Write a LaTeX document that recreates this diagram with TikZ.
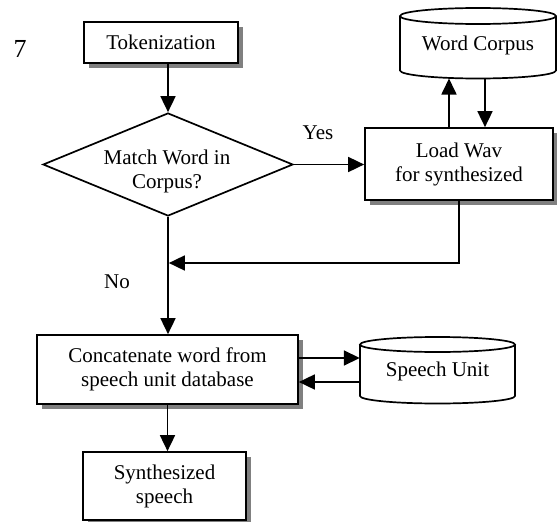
\documentclass[tikz,border=0pt]{standalone}
\usepackage{fontspec}
\setmainfont{Liberation Serif}
\usetikzlibrary{shapes.geometric,arrows.meta,shadows}
\begin{document}
\begin{tikzpicture}[x=1pt,y=-1pt,
  font=\fontsize{21}{24}\selectfont,
  ln/.style={line width=1.7pt},
  arr/.style={line width=1.7pt,-{Triangle[length=16pt,width=15pt]}},
  boxshadow/.style={drop shadow={shadow xshift=5pt,shadow yshift=-5pt,fill=black!50,opacity=1}},
  procbox/.style={draw,line width=1.7pt,fill=white,boxshadow,align=center,inner sep=0pt},
  decision/.style={draw,line width=1.7pt,fill=white,shape=diamond,aspect=2.43,inner sep=0pt},
  plaintext/.style={inner sep=0pt,align=center},
]
\useasboundingbox (0,0) rectangle (557,522);

% label 7
\node[font=\fontsize{26}{30}\selectfont] (seven) at (20,49) {7};

% process boxes
\node[procbox,minimum width=154pt,minimum height=41pt] (tok) at (161,42.5) {Tokenization};
\node[decision,minimum width=250pt,minimum height=103pt] (dia) at (168,164.5) {};
\node[plaintext] (diatext) at (167,171) {Match Word in\\Corpus?};
\node[procbox,minimum width=188pt,minimum height=72pt] (lw) at (459,164) {Load Wav\\for synthesized};
\node[procbox,minimum width=261pt,minimum height=69pt] (cat) at (167.5,369.5) {Concatenate word from\\speech unit database};
\node[procbox,minimum width=163pt,minimum height=68pt] (syn) at (164.5,486) {Synthesized\\speech};

% Word Corpus cylinder
\draw[ln,fill=white] (400,16) -- (400,70.5)
  arc[start angle=180,end angle=360,x radius=78pt,y radius=8pt] -- (556,16);
\draw[ln,fill=white] (478,16) ellipse[x radius=78pt,y radius=8pt];
\node[plaintext,minimum width=156pt,minimum height=54.5pt] (wc) at (478,45) {Word Corpus};

% Speech Unit cylinder
\draw[ln,fill=white] (360,344.5) -- (360,396)
  arc[start angle=180,end angle=360,x radius=77.5pt,y radius=7.5pt] -- (515,344.5);
\draw[ln,fill=white] (437.5,344.5) ellipse[x radius=77.5pt,y radius=7.5pt];
\node[plaintext,minimum width=155pt,minimum height=51.5pt] (su) at (437.5,371) {Speech Unit};

% connector end points on the cylinder bottom
\coordinate (wcl) at (449,78.5);
\coordinate (wcr) at (485,79);
\coordinate (join) at (168,263);

% connectors
\draw[arr] (tok.south -| dia.north) -- (dia.north);
\draw[arr] (dia.east) -- (dia.east -| lw.west);
\node (yes) at (318,133) {Yes};
\draw[arr] (lw.north -| wcl) -- (wcl);
\draw[arr] (wcr) -- (wcr |- lw.north);
\draw[arr,shorten >=0.85pt] (lw.south) |- (join);
\draw[arr] (dia.south) -- (dia.south |- cat.north);
\node (no) at (117,282) {No};
\draw[arr] (cat.east |- 0,358) -- (su.west |- 0,358);
\draw[arr] (su.west |- 0,382) -- (cat.east |- 0,382);
\draw[arr] (cat.south) -- (cat.south |- syn.north);
\end{tikzpicture}
\end{document}
